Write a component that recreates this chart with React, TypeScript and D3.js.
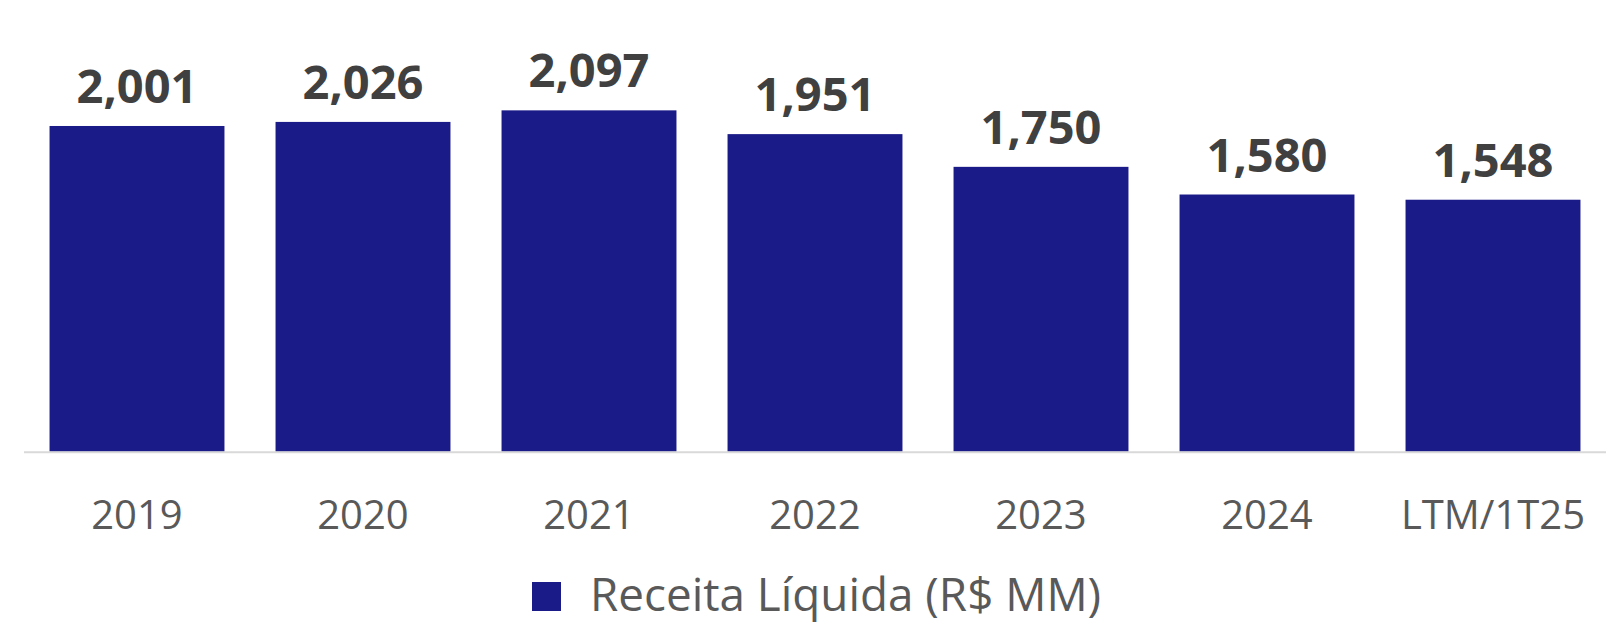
import React from "react";
import * as d3 from "d3";

const categories = ["2019", "2020", "2021", "2022", "2023", "2024", "LTM/1T25"];
const receitaLiquida = [2001, 2026, 2097, 1951, 1750, 1580, 1548];
const legendLabel = "Receita Líquida (R$ MM)";

const W = 1610;
const H = 622;
const FONT = "'Open Sans', 'Noto Sans', sans-serif";

export default function App() {
  const x = d3
    .scaleBand<string>()
    .domain(categories)
    .range([24, 1606])
    .paddingInner(0.226)
    .paddingOuter(0.113);
  const y = d3.scaleLinear().domain([0, 2775]).range([451.7, 0]);
  const fmt = d3.format(",");

  return (
    <svg
      width={W}
      height={H}
      style={{ position: "absolute", left: 0, top: 0, display: "block", background: "#fff" }}
    >
      {categories.map((c, i) => {
        const v = receitaLiquida[i];
        const bx = x(c)!;
        return (
          <g key={c}>
            <rect x={bx} y={y(v)} width={x.bandwidth()} height={y(0) - y(v)} fill="#1A1A88" />
            <text
              x={bx + x.bandwidth() / 2}
              y={y(v) - 23}
              textAnchor="middle"
              fontFamily={FONT}
              fontWeight={700}
              fontSize={47}
              fill="#404040"
            >
              {fmt(v)}
            </text>
            <text
              x={bx + x.bandwidth() / 2}
              y={529}
              textAnchor="middle"
              fontFamily={FONT}
              fontSize={40}
              fill="#595959"
            >
              {c}
            </text>
          </g>
        );
      })}
      <line x1={24} x2={1606} y1={y(0) + 0.5} y2={y(0) + 0.5} stroke="#d9d9d9" strokeWidth={2} />
      <rect x={532} y={582} width={29} height={29} fill="#1A1A88" />
      <text x={590} y={611} fontFamily={FONT} fontSize={45.8} fill="#595959">
        {legendLabel}
      </text>
    </svg>
  );
}
